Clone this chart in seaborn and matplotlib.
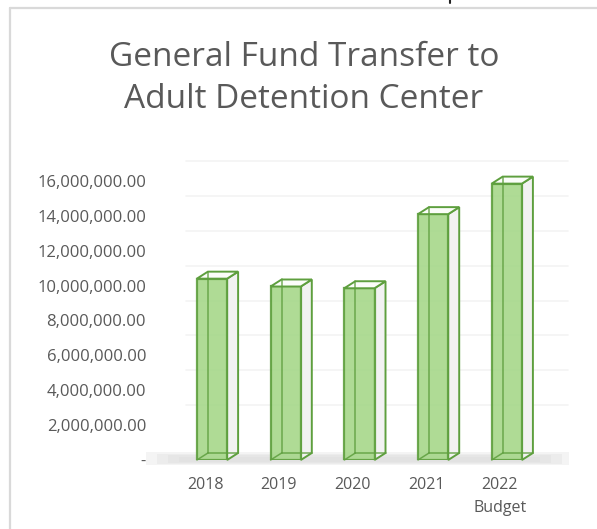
import matplotlib
matplotlib.use("Agg")
import matplotlib.pyplot as plt
import seaborn as sns
import pandas as pd
from matplotlib.patches import Polygon
from matplotlib.transforms import ScaledTranslation, IdentityTransform
from matplotlib.lines import Line2D

# ---- data ----
years = ["2018", "2019", "2020", "2021", "2022\nBudget"]
values = [10.4e6, 9.95e6, 9.85e6, 14.1e6, 15.85e6]
ytick_values = [0, 2e6, 4e6, 6e6, 8e6, 10e6, 12e6, 14e6, 16e6]
ytick_labels = ["-", "2,000,000.00", "4,000,000.00", "6,000,000.00", "8,000,000.00",
                "10,000,000.00", "12,000,000.00", "14,000,000.00", "16,000,000.00"]
title_lines = ["General Fund Transfer to", "Adult Detention Center"]

sns.set_theme(style="white")
plt.rcParams['font.family'] = ['Open Sans', 'DejaVu Sans']

TXT = "#595959"
FACE = "#a6d78a"
EDGE = "#5e9f3e"

W, H, DPI = 597, 529, 100
fig = plt.figure(figsize=(W / DPI, H / DPI), dpi=DPI)
fig.patch.set_facecolor("white")

# axes geometry (pixels): category 0 at x=212, spacing 73.7 ; y=0 at 460, 16M at 181
xmin, xmax = -0.65, 4.75
step = 73.7
left_px = 212 + xmin * step
width_px = (xmax - xmin) * step
ymax = 16.6e6
px_per = (460 - 181) / 16e6
height_px = ymax * px_per
ax = fig.add_axes([left_px / W, (H - 460) / H, width_px / W, height_px / H])
ax.set_facecolor("none")

df = pd.DataFrame({"year": years, "value": values})
sns.barplot(data=df, x="year", y="value", ax=ax, width=0.41, color=FACE,
            saturation=1, edgecolor=EDGE, linewidth=1.6, zorder=5, alpha=0.9)
ax.set_xlim(xmin, xmax)
ax.set_ylim(0, ymax)

# faint back-wall gridlines (offset like the 3D back wall)
grid_tf = ax.get_yaxis_transform() + ScaledTranslation(0.06, 0.2, fig.dpi_scale_trans)
for v in ytick_values[1:]:
    ax.plot([0.04, 1.0], [v, v], transform=grid_tf, color="#f4f4f4", lw=1.2, zorder=1, clip_on=False)

# soft floor shadow (stacked translucent bands)
for k, (x_a, x_b, hgt) in enumerate([(-0.9, 4.85, 0.75e6), (-0.75, 4.75, 0.6e6),
                                      (-0.6, 4.6, 0.45e6), (-0.45, 4.45, 0.3e6)]):
    tf = ax.transData + ScaledTranslation(0, -0.05 + 0.01 * k, fig.dpi_scale_trans)
    ax.fill_between([x_a, x_b], [0, 0], [hgt, hgt], color="#d8d8d8", alpha=0.28,
                    transform=tf, zorder=2, lw=0, clip_on=False)

# 3D box faces built from the seaborn bars
fig.canvas.draw()
dx, dy = 11, 7
for p in ax.patches:
    if not hasattr(p, "get_height") or p.get_height() <= 0 or p.get_width() > 1:
        continue
    x0, w, h = p.get_x(), p.get_width(), p.get_height()
    (flx, fby) = ax.transData.transform((x0, 0))
    (frx, fty) = ax.transData.transform((x0 + w, h))
    fl_b = (flx, fby); fr_b = (frx, fby); fl_t = (flx, fty); fr_t = (frx, fty)
    bl_b = (flx + dx, fby + dy); br_b = (frx + dx, fby + dy)
    bl_t = (flx + dx, fty + dy); br_t = (frx + dx, fty + dy)
    idt = IdentityTransform()
    side = Polygon([fr_b, fr_t, br_t, br_b], closed=True, facecolor="#f2f2f2",
                   edgecolor=EDGE, lw=1.4, transform=idt, zorder=4, clip_on=False)
    top = Polygon([fl_t, fr_t, br_t, bl_t], closed=True, facecolor="#fbfdf9",
                  edgecolor=EDGE, lw=1.4, transform=idt, zorder=6, clip_on=False)
    ax.add_patch(side)
    ax.add_patch(top)
    for a, b in [(bl_b, bl_t), (bl_b, br_b), (fl_b, bl_b)]:
        ax.add_line(Line2D([a[0], b[0]], [a[1], b[1]], color=EDGE, lw=1.1, alpha=0.85,
                           transform=idt, zorder=6, clip_on=False))

# axes styling
for s in ax.spines.values():
    s.set_visible(False)
ax.set_xlabel("")
ax.set_ylabel("")
ax.set_yticks(ytick_values)
ax.set_yticklabels(ytick_labels)
ax.tick_params(axis="y", length=0, pad=13, labelsize=12, labelcolor=TXT)
ax.tick_params(axis="x", length=0, pad=12, labelsize=11.5, labelcolor=TXT)
for lab in ax.get_xticklabels():
    lab.set_linespacing(1.6)
    lab.set_transform(lab.get_transform() + ScaledTranslation(-0.07, 0, fig.dpi_scale_trans))
ax.grid(False)

# title
fig.text(304 / W, 1 - 58 / H, title_lines[0], ha="center", va="center", fontsize=24, color=TXT)
fig.text(304 / W, 1 - 100 / H, title_lines[1], ha="center", va="center", fontsize=24, color=TXT)

# chart frame border
fig.add_artist(Line2D([10 / W, 10 / W], [0, 1 - 8 / H], transform=fig.transFigure,
                      color="#d9d9d9", lw=1.6))
fig.add_artist(Line2D([10 / W, 1], [1 - 8 / H, 1 - 8 / H], transform=fig.transFigure,
                      color="#d9d9d9", lw=1.6))
fig.add_artist(Line2D([450 / W, 450 / W], [1, 1 - 3 / H], transform=fig.transFigure,
                      color="#222222", lw=1.5))

fig.savefig("out.png", dpi=DPI, facecolor="white")
